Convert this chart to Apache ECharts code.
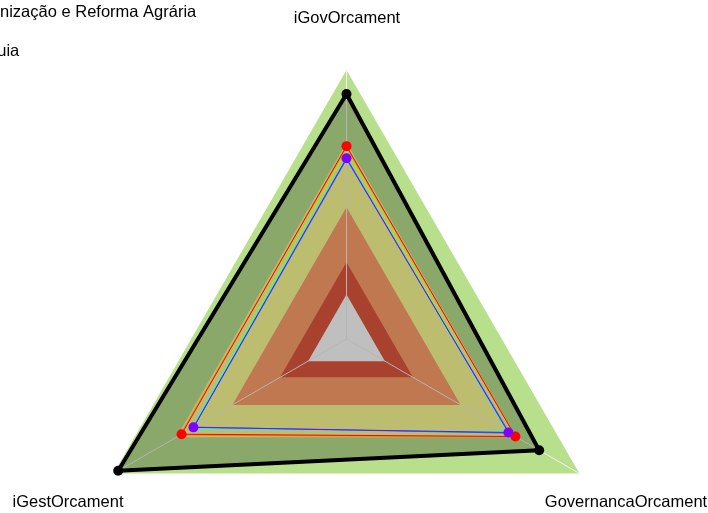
<!DOCTYPE html>
<html>
<head>
<meta charset="utf-8">
<script src="https://cdn.jsdelivr.net/npm/echarts@6/dist/echarts.min.js"></script>
<style>
  html, body { margin: 0; padding: 0; background: #ffffff; }
  #chart { width: 708px; height: 513px; }
</style>
</head>
<body>
<div id="chart"></div>
<script>
// Radar axes (counter-clockwise from the top)
const indicators = ['iGovOrcament', 'iGestOrcament', 'GovernancaOrcament'];

// Maturity bands, outermost first
const bandLimits = [1, 0.73, 0.49, 0.285, 0.165];

// Series values, in the order of `indicators`
const seriesNames = [
  'Instituto Nacional de Colonização e Reforma Agrária',
  'Média da mesma Hierarquia',
  'Órgão 3',
  'Órgão 4',
  'Órgão 5',
  'Órgão 6',
  'Órgão 7'
];
const incraValues = [0.911, 0.98, 0.827];
const hierarquiaValues = [0.717, 0.708, 0.725];
const orgao3Values = [0.712, 0.715, 0.728];
const orgao4Values = [0.70, 0.662, 0.69];
const orgao5Values = [0.675, 0.665, 0.69];
const orgao6Values = [0.668, 0.655, 0.70];
const orgao7Values = [0.672, 0.657, 0.695];

// Legend entries
const legendNames = [seriesNames[0], seriesNames[1]];

// ---- styling ----
const FONT = '"Liberation Sans", Arial, sans-serif';
const FONT_SIZE = 16.5;
const bandColors = ['#b8e08c', '#fdfd95', '#ffa06b', '#e0573c', '#ffffff'];

const chart = echarts.init(document.getElementById('chart'), null, { renderer: 'canvas' });

function lineSeries(name, values, color, width, withDots, z) {
  return {
    type: 'radar',
    name: name,
    z: z,
    symbol: withDots ? 'circle' : 'none',
    symbolSize: 10,
    itemStyle: { color: color },
    lineStyle: { color: color, width: width },
    data: [{ value: values, name: name }]
  };
}

const blackSeries = lineSeries(seriesNames[0], incraValues, '#000000', 4, true, 10);
blackSeries.areaStyle = { color: 'rgba(0,0,0,0.25)', opacity: 1 };

function axisLabel(text, x, y) {
  return {
    type: 'text', x: x, y: y,
    style: { text: text, font: FONT_SIZE + 'px ' + FONT, fill: '#000', textAlign: 'center', textVerticalAlign: 'middle' }
  };
}

const option = {
  backgroundColor: '#ffffff',
  animation: false,
  legend: {
    data: legendNames,
    orient: 'vertical',
    left: -223,
    top: -1,
    itemGap: 22,
    itemWidth: 25,
    itemHeight: 16,
    selectedMode: false,
    textStyle: { fontFamily: FONT, fontSize: FONT_SIZE, color: '#000000', lineHeight: 16 }
  },
  radar: {
    z: 5,
    center: [346.5, 339],
    radius: 269,
    shape: 'polygon',
    startAngle: 90,
    splitNumber: 1,
    indicator: indicators.map(n => ({ name: n, min: 0, max: 1 })),
    axisName: { show: false },
    axisLine: { lineStyle: { color: '#f2f2f2', width: 1 } },
    splitLine: { show: false },
    splitArea: { show: false }
  },
  graphic: [
    axisLabel(indicators[0], 347, 18),
    axisLabel(indicators[1], 68, 502),
    axisLabel(indicators[2], 626, 502)
  ],
  series: [
    {
      type: 'radar',
      name: 'faixas',
      z: 1,
      silent: true,
      symbol: 'none',
      lineStyle: { width: 0, opacity: 0 },
      data: bandLimits.map((v, i) => ({
        value: indicators.map(() => v),
        areaStyle: { color: bandColors[i], opacity: 1 },
        lineStyle: { width: 0, opacity: 0 }
      }))
    },
    blackSeries,
    lineSeries(seriesNames[2], orgao3Values, '#ff8000', 1, false, 10),
    lineSeries(seriesNames[1], hierarquiaValues, '#ff0000', 1, true, 11),
    lineSeries(seriesNames[3], orgao4Values, '#80ff00', 1, false, 10),
    lineSeries(seriesNames[4], orgao5Values, '#00ffff', 1, false, 10),
    lineSeries(seriesNames[5], orgao6Values, '#0080ff', 1, false, 10),
    lineSeries(seriesNames[6], orgao7Values, '#8000ff', 1, true, 11)
  ]
};

chart.setOption(option);
</script>
</body>
</html>
